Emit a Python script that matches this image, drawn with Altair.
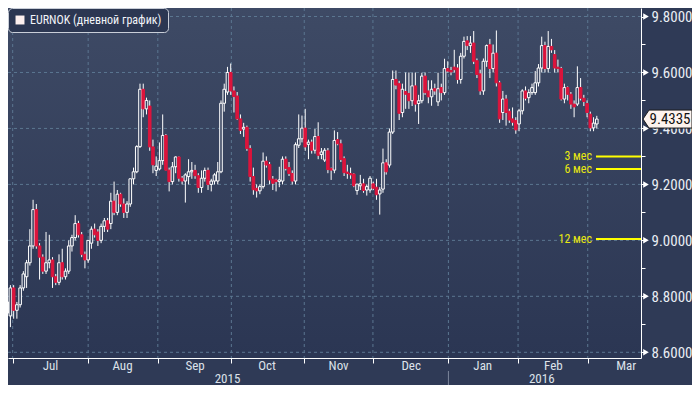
import altair as alt
import pandas as pd

# ---------------- data ----------------
opens = [
    8.74, 8.73, 8.83, 8.75, 8.77, 8.83, 8.87, 8.92, 8.98, 9.11,
    8.98, 8.94, 8.89, 8.92, 8.93, 8.87, 8.85, 8.92, 8.87, 8.89,
    8.98, 9.01, 9.06, 9.02, 8.95, 8.93, 8.99, 9.04, 9.03, 9.00,
    9.05, 9.07, 9.06, 9.14, 9.10, 9.165, 9.13, 9.10, 9.13, 9.22,
    9.245, 9.335, 9.54, 9.47, 9.48, 9.334, 9.25, 9.255, 9.285, 9.375,
    9.251, 9.21, 9.263, 9.298, 9.222, 9.212, 9.228, 9.245, 9.25, 9.231,
    9.189, 9.222, 9.25, 9.20, 9.212, 9.212, 9.245, 9.49, 9.53, 9.60,
    9.534, 9.516, 9.434, 9.398, 9.404, 9.328, 9.228, 9.186, 9.177, 9.192,
    9.283, 9.271, 9.219, 9.216, 9.210, 9.212, 9.290, 9.260, 9.239, 9.212,
    9.340, 9.363, 9.401, 9.343, 9.351, 9.322, 9.371, 9.307, 9.287, 9.320,
    9.257, 9.251, 9.360, 9.345, 9.292, 9.244, 9.239, 9.237, 9.178, 9.195,
    9.202, 9.180, 9.180, 9.202, 9.190, 9.166, 9.183, 9.277, 9.269, 9.387,
    9.575, 9.560, 9.457, 9.532, 9.525, 9.499, 9.552, 9.489, 9.499, 9.587,
    9.534, 9.513, 9.542, 9.495, 9.546, 9.528, 9.614, 9.607, 9.619, 9.616,
    9.575, 9.658, 9.713, 9.696, 9.705, 9.642, 9.595, 9.534, 9.640, 9.699,
    9.614, 9.669, 9.563, 9.457, 9.505, 9.461, 9.434, 9.428, 9.416, 9.463,
    9.534, 9.510, 9.528, 9.528, 9.563, 9.616, 9.696, 9.614, 9.693, 9.664,
    9.619, 9.614, 9.505, 9.546, 9.522, 9.487, 9.487, 9.546, 9.508, 9.489,
    9.451, 9.402, 9.416,
]
highs = [
    8.80, 8.84, 8.84, 8.78, 8.84, 8.89, 8.93, 9.04, 9.145, 9.13,
    8.99, 8.95, 9.03, 9.02, 8.94, 8.88, 8.95, 8.97, 8.90, 9.00,
    9.02, 9.09, 9.07, 9.03, 8.96, 9.00, 9.05, 9.06, 9.04, 9.06,
    9.08, 9.08, 9.17, 9.21, 9.18, 9.17, 9.15, 9.14, 9.22, 9.26,
    9.34, 9.56, 9.56, 9.51, 9.50, 9.36, 9.30, 9.35, 9.45, 9.38,
    9.26, 9.28, 9.30, 9.30, 9.23, 9.24, 9.29, 9.28, 9.27, 9.24,
    9.25, 9.26, 9.26, 9.22, 9.24, 9.28, 9.50, 9.56, 9.62, 9.632,
    9.55, 9.53, 9.45, 9.42, 9.41, 9.34, 9.26, 9.20, 9.20, 9.314,
    9.30, 9.28, 9.23, 9.22, 9.263, 9.30, 9.30, 9.28, 9.25, 9.35,
    9.45, 9.446, 9.47, 9.36, 9.36, 9.398, 9.422, 9.33, 9.33, 9.33,
    9.26, 9.393, 9.387, 9.36, 9.30, 9.27, 9.26, 9.24, 9.20, 9.234,
    9.22, 9.20, 9.23, 9.21, 9.22, 9.19, 9.328, 9.29, 9.40, 9.607,
    9.607, 9.57, 9.56, 9.60, 9.60, 9.599, 9.60, 9.52, 9.599, 9.60,
    9.572, 9.572, 9.56, 9.599, 9.56, 9.649, 9.64, 9.62, 9.681, 9.63,
    9.67, 9.728, 9.73, 9.73, 9.748, 9.65, 9.61, 9.65, 9.70, 9.72,
    9.70, 9.75, 9.57, 9.534, 9.52, 9.47, 9.475, 9.44, 9.47, 9.54,
    9.55, 9.54, 9.56, 9.605, 9.63, 9.728, 9.71, 9.748, 9.72, 9.68,
    9.646, 9.62, 9.56, 9.55, 9.53, 9.50, 9.622, 9.58, 9.52, 9.50,
    9.46, 9.44, 9.445,
]
lows = [
    8.71, 8.69, 8.72, 8.72, 8.76, 8.82, 8.83, 8.91, 8.97, 8.97,
    8.86, 8.88, 8.88, 8.90, 8.83, 8.84, 8.84, 8.86, 8.86, 8.88,
    8.96, 9.00, 9.01, 8.94, 8.90, 8.92, 8.97, 9.01, 8.98, 8.99,
    9.03, 9.03, 9.04, 9.09, 9.09, 9.12, 9.08, 9.08, 9.12, 9.20,
    9.24, 9.33, 9.44, 9.45, 9.32, 9.24, 9.23, 9.25, 9.27, 9.25,
    9.175, 9.20, 9.24, 9.21, 9.20, 9.135, 9.20, 9.22, 9.22, 9.17,
    9.17, 9.21, 9.18, 9.175, 9.20, 9.20, 9.24, 9.46, 9.52, 9.52,
    9.457, 9.43, 9.38, 9.37, 9.32, 9.21, 9.163, 9.153, 9.165, 9.185,
    9.26, 9.20, 9.18, 9.175, 9.19, 9.20, 9.25, 9.23, 9.20, 9.20,
    9.33, 9.35, 9.32, 9.29, 9.31, 9.31, 9.29, 9.29, 9.28, 9.24,
    9.216, 9.24, 9.34, 9.28, 9.23, 9.22, 9.22, 9.19, 9.163, 9.18,
    9.17, 9.16, 9.17, 9.18, 9.145, 9.092, 9.17, 9.235, 9.26, 9.38,
    9.54, 9.43, 9.44, 9.47, 9.47, 9.48, 9.46, 9.416, 9.49, 9.52,
    9.49, 9.481, 9.52, 9.48, 9.50, 9.52, 9.60, 9.59, 9.60, 9.56,
    9.56, 9.65, 9.68, 9.67, 9.63, 9.58, 9.52, 9.52, 9.62, 9.58,
    9.60, 9.55, 9.42, 9.43, 9.41, 9.42, 9.41, 9.381, 9.39, 9.45,
    9.50, 9.49, 9.52, 9.52, 9.55, 9.60, 9.60, 9.60, 9.67, 9.60,
    9.60, 9.50, 9.49, 9.50, 9.47, 9.44, 9.48, 9.50, 9.48, 9.44,
    9.39, 9.39, 9.40,
]
closes = [
    8.78, 8.83, 8.75, 8.77, 8.83, 8.88, 8.92, 8.98, 9.11, 8.98,
    8.94, 8.89, 8.92, 8.93, 8.87, 8.85, 8.92, 8.87, 8.89, 8.98,
    9.01, 9.06, 9.02, 8.95, 8.93, 9.00, 9.04, 9.02, 9.00, 9.05,
    9.07, 9.04, 9.14, 9.10, 9.165, 9.13, 9.10, 9.13, 9.22, 9.245,
    9.335, 9.54, 9.47, 9.50, 9.334, 9.27, 9.265, 9.285, 9.375, 9.251,
    9.21, 9.263, 9.298, 9.222, 9.212, 9.234, 9.245, 9.25, 9.231, 9.189,
    9.222, 9.25, 9.20, 9.212, 9.234, 9.245, 9.49, 9.54, 9.60, 9.534,
    9.514, 9.434, 9.393, 9.404, 9.328, 9.228, 9.181, 9.177, 9.192, 9.283,
    9.269, 9.216, 9.204, 9.210, 9.216, 9.290, 9.257, 9.239, 9.212, 9.342,
    9.363, 9.401, 9.334, 9.351, 9.322, 9.371, 9.304, 9.316, 9.322, 9.253,
    9.251, 9.357, 9.345, 9.289, 9.242, 9.239, 9.234, 9.195, 9.201, 9.202,
    9.178, 9.192, 9.222, 9.186, 9.163, 9.180, 9.277, 9.245, 9.387, 9.575,
    9.555, 9.454, 9.540, 9.522, 9.499, 9.552, 9.487, 9.499, 9.587, 9.528,
    9.513, 9.540, 9.534, 9.542, 9.528, 9.614, 9.605, 9.602, 9.610, 9.575,
    9.658, 9.711, 9.696, 9.705, 9.640, 9.593, 9.534, 9.640, 9.696, 9.614,
    9.669, 9.563, 9.434, 9.505, 9.457, 9.430, 9.422, 9.395, 9.463, 9.534,
    9.508, 9.528, 9.546, 9.563, 9.616, 9.696, 9.614, 9.693, 9.681, 9.616,
    9.614, 9.505, 9.546, 9.522, 9.487, 9.477, 9.546, 9.508, 9.496, 9.457,
    9.402, 9.419, 9.4335,
]

series_name = "EURNOK (дневной график)"
last_price = 9.4335

month_names = ["Jul", "Aug", "Sep", "Oct", "Nov", "Dec", "Jan", "Feb", "Mar"]
month_starts = [1.7, 25.0, 46.5, 69.2, 91.7, 112.9, 136.2, 157.7, 179.2]
month_label_pos = [13.4, 35.6, 58.0, 80.2, 102.3, 124.7, 146.8, 168.6, 191.1]
year_names = ["2015", "2016"]
year_label_pos = [68.0, 165.0]
year_breaks = [136.2]

grid_levels = [8.6, 8.8, 9.0, 9.2, 9.4, 9.6, 9.8]
tick_levels = [8.6, 8.7, 8.8, 8.9, 9.0, 9.1, 9.2, 9.3, 9.4, 9.5, 9.6, 9.7, 9.8]

forecast_names = ["3 мес", "6 мес", "12 мес"]
forecast_levels = [9.30, 9.255, 9.005]

# ---------------- layout / style ----------------
W, H = 633, 350          # plot area; whole chart is 684 x 377 (fits inside the page margin)
PAD_R, PAD_B = 51, 27
FONT = "Liberation Sans Narrow, Roboto Condensed, Roboto, sans-serif"
GRID = "#5b7690"
RED = "#dc143c"
UPFILL = "#37435f"

xscale = alt.Scale(domain=[1.8, 194.1], nice=False, zero=False)
yscale = alt.Scale(domain=[8.5796, 9.8304], nice=False, zero=False)

x_axis = alt.Axis(values=month_starts, labels=False, tickSize=5, tickColor="white",
                  domainColor="white", grid=False, title=None)
y_axis = alt.Axis(orient="right", values=tick_levels,
                  labelExpr="round(datum.value*10) % 2 == 0 ? format(datum.value, '.4f') : ''",
                  tickSize=4, tickColor="white", domainColor="white", grid=False,
                  labelFont=FONT, labelFontSize=15, labelColor="#e9edf3",
                  labelPadding=6, labelOverlap=False, title=None)


def X(field):
    return alt.X(field, scale=xscale, axis=x_axis, title=None)


def Y(field):
    return alt.Y(field, scale=yscale, axis=y_axis, title=None)


candles = pd.DataFrame({
    "i": list(range(len(closes))),
    "open": opens, "high": highs, "low": lows, "close": closes,
})
one = pd.DataFrame({"k": [0]})
months_df = pd.DataFrame({"name": month_names, "pos": month_label_pos})
years_df = pd.DataFrame({"name": year_names, "pos": year_label_pos})
breaks_df = pd.DataFrame({"pos": year_breaks})
vgrid_df = pd.DataFrame({"pos": month_starts})
hgrid_df = pd.DataFrame({"level": grid_levels})
fc_df = pd.DataFrame({"name": forecast_names, "level": forecast_levels})
price_df = pd.DataFrame({"price": [last_price]})

grad = alt.Gradient(
    gradient="linear",
    stops=[alt.GradientStop(color="#3e4a65", offset=0),
           alt.GradientStop(color="#2b3653", offset=1)],
    x1=0, x2=0, y1=0, y2=1,
)

bg = alt.Chart(one).mark_rect(fill=grad).encode(
    x=alt.value(0), x2=alt.value(W), y=alt.value(0), y2=alt.value(H)
)

vgrid = alt.Chart(vgrid_df).mark_rule(color=GRID, strokeDash=[3, 3], strokeWidth=1).encode(
    x=X("pos:Q"), y=alt.value(0), y2=alt.value(H)
)
hgrid = alt.Chart(hgrid_df).mark_rule(color=GRID, strokeDash=[3, 3], strokeWidth=1).encode(
    y=Y("level:Q"), x=alt.value(0), x2=alt.value(W)
)

base = alt.Chart(candles)
wick = base.mark_rule(color="white", strokeWidth=1).encode(
    x=X("i:Q"), y=Y("low:Q"), y2="high:Q",
)
body = base.mark_bar(size=2.6, strokeWidth=1).encode(
    x=X("i:Q"), y=Y("open:Q"), y2="close:Q",
    fill=alt.condition("datum.close >= datum.open", alt.value(UPFILL), alt.value(RED)),
    stroke=alt.condition("datum.close >= datum.open", alt.value("white"), alt.value(RED)),
)

fc_rules = alt.Chart(fc_df).mark_rule(color="#ffff00", strokeWidth=2).encode(
    x=alt.value(W - 45), x2=alt.value(W), y=Y("level:Q")
)
fc_text = alt.Chart(fc_df).mark_text(align="right", baseline="middle", font=FONT,
                                     fontSize=12, color="#e8e810").encode(
    x=alt.value(W - 49), y=Y("level:Q"), text="name:N"
)

arrows = alt.Chart(hgrid_df).mark_point(shape="triangle-right", filled=True, size=42,
                                         color="white", opacity=1).encode(
    x=alt.value(W + 5), y=Y("level:Q")
)

tag_path = "M-1,0L-0.755,-0.367L1,-0.367L1,0.367L-0.755,0.367Z"
tag = alt.Chart(price_df).mark_point(shape=tag_path, filled=True, size=2401,
                                      fill="#fdf3ee", stroke="#1a1a1a", strokeWidth=1,
                                      opacity=1).encode(
    x=alt.value(W + 26.5), y=Y("price:Q")
)
tag_text = alt.Chart(price_df).mark_text(font=FONT, fontSize=15, color="#111111",
                                          align="center", baseline="middle").encode(
    x=alt.value(W + 29), y=Y("price:Q"),
    text=alt.Text("price:Q", format=".4f"),
)

m_labels = alt.Chart(months_df).mark_text(baseline="middle", font=FONT, fontSize=13,
                                          color="#dde2ea").encode(
    x=X("pos:Q"), y=alt.value(H + 8), text="name:N"
)
yr_labels = alt.Chart(years_df).mark_text(baseline="middle", font=FONT, fontSize=13,
                                          color="#dde2ea").encode(
    x=X("pos:Q"), y=alt.value(H + 21), text="name:N"
)
sep = alt.Chart(breaks_df).mark_rule(color="#7d879b", strokeWidth=1).encode(
    x=X("pos:Q"), y=alt.value(H + 13), y2=alt.value(H + PAD_B)
)

legend_layer = alt.Chart(one).transform_calculate(s="'x'").transform_filter("false").mark_square(
    size=80, filled=True, opacity=1
).encode(
    fill=alt.Fill("s:N", scale=alt.Scale(domain=[series_name], range=["#fdf0ef"]),
                  legend=alt.Legend(title=None, orient="none", legendX=0, legendY=0,
                                    fillColor="#2c3752", strokeColor="#c9ced8",
                                    cornerRadius=4, padding=6, labelColor="#f2f4f8",
                                    labelFont=FONT, labelFontSize=12, symbolType="square",
                                    symbolSize=80, symbolStrokeWidth=0, zindex=1)),
)

chart = alt.layer(
    bg, vgrid, hgrid, wick, body, fc_rules, fc_text, arrows, tag, tag_text,
    m_labels, yr_labels, sep, legend_layer
).properties(
    width=W, height=H,
    padding={"left": 0, "top": 0, "right": PAD_R, "bottom": PAD_B},
    autosize=alt.AutoSizeParams(type="none"),
    background="#2f3a56",
).configure_view(strokeWidth=0)

chart.save("out.html", embed_options={"renderer": "svg", "actions": False})
